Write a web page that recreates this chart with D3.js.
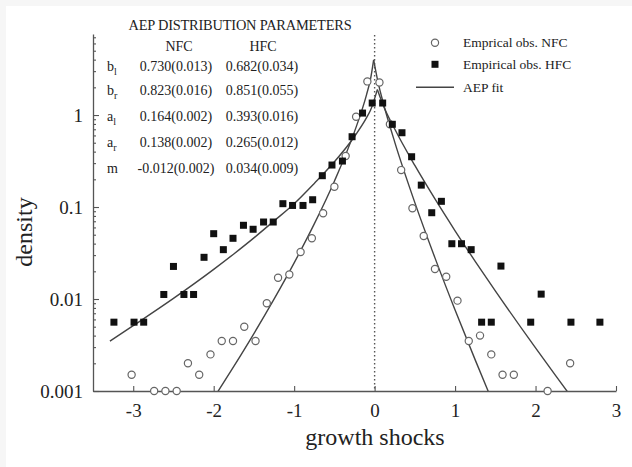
<!DOCTYPE html>
<html>
<head>
<meta charset="utf-8">
<script src="https://cdn.jsdelivr.net/npm/d3@7"></script>
<style>
  html, body { margin: 0; padding: 0; background: #f6f6f6; }
  svg { display: block; }
  text { font-family: "Liberation Serif", "Times New Roman", "DejaVu Serif", serif; fill: #222; }
</style>
</head>
<body>
<svg id="chart" width="632" height="467"></svg>
<script>
// ---- Data ----
const nfcX = [-3.02,-2.74,-2.60,-2.46,-2.32,-2.18,-2.04,-1.90,-1.76,-1.62,-1.48,-1.34,-1.20,-1.06,-0.92,-0.78,-0.64,-0.50,-0.36,-0.23,-0.09,0.06,0.19,0.33,0.47,0.61,0.75,0.89,1.03,1.17,1.31,1.45,1.59,1.73,2.15,2.43];
const nfcY = [0.0015,0.001,0.001,0.001,0.002,0.0015,0.0025,0.0035,0.0035,0.005,0.0035,0.009,0.017,0.0185,0.0324,0.0457,0.0855,0.166,0.358,0.958,2.32,2.26,0.793,0.252,0.0968,0.0484,0.0212,0.01745,0.0096,0.0035,0.004,0.0025,0.0015,0.0015,0.001,0.002];

const hfcX = [-3.24,-2.99,-2.87,-2.62,-2.50,-2.37,-2.25,-2.12,-2.00,-1.88,-1.76,-1.63,-1.51,-1.38,-1.26,-1.14,-1.02,-0.89,-0.77,-0.65,-0.53,-0.40,-0.28,-0.15,-0.03,0.10,0.22,0.34,0.46,0.58,0.71,0.83,0.96,1.08,1.20,1.33,1.45,1.57,1.94,2.07,2.44,2.80];
const hfcY = [0.0056,0.0056,0.0056,0.0112,0.0226,0.0112,0.0112,0.0284,0.0513,0.0344,0.0457,0.0633,0.0573,0.0687,0.0687,0.1087,0.104,0.104,0.120,0.219,0.286,0.316,0.581,1.05,1.35,1.35,0.793,0.642,0.352,0.173,0.0867,0.1153,0.0399,0.0399,0.0344,0.0056,0.0056,0.0228,0.0056,0.0113,0.0056,0.0056];

// AEP fit curves
const fitNfcLeftX  = [-2.0,-1.95,-1.75,-1.5,-1.25,-1.0,-0.75,-0.5,-0.25,-0.1,-0.05,-0.012];
const fitNfcLeftY  = [0.000838,0.00098,0.00185,0.00421,0.00996,0.0247,0.0655,0.191,0.660,1.668,2.486,3.98];
const fitNfcRightX = [-0.012,0.05,0.1,0.25,0.5,0.75,1.0,1.25,1.4,1.5];
const fitNfcRightY = [3.98,2.122,1.431,0.508,0.1116,0.0280,0.00759,0.00218,0.00105,0.00065];
const fitHfcLeftX  = [-3.29,-3.0,-2.5,-2.0,-1.75,-1.5,-1.25,-1.0,-0.75,-0.5,-0.25,-0.1,-0.05,0.034];
const fitHfcLeftY  = [0.00348,0.00513,0.01015,0.0210,0.0309,0.0462,0.0706,0.1086,0.1805,0.310,0.584,0.935,1.133,1.891];
const fitHfcRightX = [0.034,0.1,0.25,0.5,0.75,1.0,1.25,1.5,2.0,2.25,2.4,2.5];
const fitHfcRightY = [1.891,1.319,0.704,0.283,0.1223,0.0552,0.0257,0.01226,0.00294,0.00147,0.000974,0.000742];

const xTicks = [-3,-2,-1,0,1,2,3];
const xTickLabels = ["-3","-2","-1","0","1","2","3"];
const yMajorTicks = [0.001,0.01,0.1,1];
const yTickLabels = ["0.001","0.01","0.1","1"];

const paramRows = ["b", "b", "a", "a", "m"];
const paramSubs = ["l", "r", "l", "r", ""];
const paramNFC = ["0.730(0.013)","0.823(0.016)","0.164(0.002)","0.138(0.002)","-0.012(0.002)"];
const paramHFC = ["0.682(0.034)","0.851(0.055)","0.393(0.016)","0.265(0.012)","0.034(0.009)"];
const legendLabels = ["Emprical obs. NFC","Empirical obs. HFC","AEP fit"];

// ---- Drawing ----
const svg = d3.select("#chart");
svg.append("rect").attr("x",6).attr("y",6).attr("width",626).attr("height",461).attr("fill","#ffffff");

const L = 93, R = 616, T = 34, B = 391;
const x = d3.scaleLinear().domain([-3.5, 3]).range([L, R]);
const y = d3.scaleLog().domain([0.001, 7.6]).range([B, T]);

svg.append("clipPath").attr("id","clip").append("rect")
  .attr("x",L).attr("y",T).attr("width",R-L).attr("height",B-T);

const axisColor = "#555";

// x axis
const xAxis = svg.append("g").attr("transform",`translate(0,${B})`)
  .call(d3.axisBottom(x).tickValues(xTicks).tickSizeInner(-5).tickSizeOuter(0).tickPadding(13)
    .tickFormat((d,i) => xTickLabels[i]));
// y axis major
const yAxis = svg.append("g").attr("transform",`translate(${L},0)`)
  .call(d3.axisLeft(y).tickValues(yMajorTicks).tickSizeInner(-6).tickSizeOuter(0).tickPadding(10)
    .tickFormat((d,i) => yTickLabels[i]));
// y axis minor
const minor = [];
[0.001,0.01,0.1,1].forEach(dec => { for (let k=2;k<=9;k++){ const v=dec*k; if (v<=7.6) minor.push(v);} });
svg.append("g").attr("transform",`translate(${L},0)`)
  .call(d3.axisLeft(y).tickValues(minor).tickSizeInner(-3).tickSizeOuter(0).tickFormat(""))
  .select(".domain").remove();

[xAxis, yAxis].forEach(g => {
  g.attr("font-family", null);
  g.select(".domain").attr("stroke",axisColor).attr("stroke-width",1.3);
  g.selectAll(".tick text").attr("font-size",19).attr("fill","#222");
});
svg.selectAll(".tick line").attr("stroke",axisColor).attr("stroke-width",1.1);

// dotted zero line
svg.append("line").attr("x1",x(0)).attr("x2",x(0)).attr("y1",T+1).attr("y2",B)
  .attr("stroke","#555").attr("stroke-width",1.4).attr("stroke-dasharray","1.4,2.6");

// fit curves
const line = d3.line().x(d=>x(d[0])).y(d=>y(d[1])).curve(d3.curveMonotoneX);
const fits = [
  d3.zip(fitNfcLeftX, fitNfcLeftY), d3.zip(fitNfcRightX, fitNfcRightY),
  d3.zip(fitHfcLeftX, fitHfcLeftY), d3.zip(fitHfcRightX, fitHfcRightY)
];
svg.append("g").attr("clip-path","url(#clip)").selectAll("path").data(fits).join("path")
  .attr("d", line).attr("fill","none").attr("stroke","#444").attr("stroke-width",1.4);

// NFC circles
svg.append("g").selectAll("circle").data(d3.zip(nfcX,nfcY)).join("circle")
  .attr("cx",d=>x(d[0])).attr("cy",d=>y(d[1])).attr("r",3.6)
  .attr("fill","#fff").attr("stroke","#666").attr("stroke-width",1.2);

// HFC squares
const sq = 7;
svg.append("g").selectAll("rect").data(d3.zip(hfcX,hfcY)).join("rect")
  .attr("x",d=>x(d[0])-sq/2).attr("y",d=>y(d[1])-sq/2).attr("width",sq).attr("height",sq)
  .attr("fill","#111");

// axis titles
svg.append("text").attr("x",375).attr("y",445).attr("text-anchor","middle")
  .attr("font-size",24).text("growth shocks");
svg.append("text").attr("transform","translate(32,232) rotate(-90)").attr("text-anchor","middle")
  .attr("font-size",24).text("density");

// parameter table
const tbl = svg.append("g").attr("font-size",14);
tbl.append("text").attr("x",240).attr("y",30).attr("text-anchor","middle")
  .attr("font-size",14.4).attr("letter-spacing",-0.2).text("AEP DISTRIBUTION PARAMETERS");
tbl.append("text").attr("x",179).attr("y",51).attr("text-anchor","middle").text("NFC");
tbl.append("text").attr("x",263).attr("y",51).attr("text-anchor","middle").text("HFC");
const rowY = [71, 94.5, 121, 147, 172.5];
paramRows.forEach((p,i) => {
  const t = tbl.append("text").attr("x",107).attr("y",rowY[i]);
  t.append("tspan").text(p);
  if (paramSubs[i]) t.append("tspan").attr("dy",4).attr("font-size",10).text(paramSubs[i]);
  tbl.append("text").attr("x",176).attr("y",rowY[i]).attr("text-anchor","middle").text(paramNFC[i]);
  tbl.append("text").attr("x",262).attr("y",rowY[i]).attr("text-anchor","middle").text(paramHFC[i]);
});

// legend
const lg = svg.append("g").attr("font-size",13.5);
lg.append("circle").attr("cx",435).attr("cy",42.7).attr("r",3.6).attr("fill","#fff").attr("stroke","#666").attr("stroke-width",1.2);
lg.append("rect").attr("x",435-sq/2).attr("y",64.3-sq/2).attr("width",sq).attr("height",sq).attr("fill","#111");
lg.append("line").attr("x1",416).attr("x2",454).attr("y1",87.3).attr("y2",87.3).attr("stroke","#444").attr("stroke-width",1.4);
[47,68.8,92].forEach((yy,i) => {
  lg.append("text").attr("x",463).attr("y",yy).text(legendLabels[i]);
});
</script>
</body>
</html>
